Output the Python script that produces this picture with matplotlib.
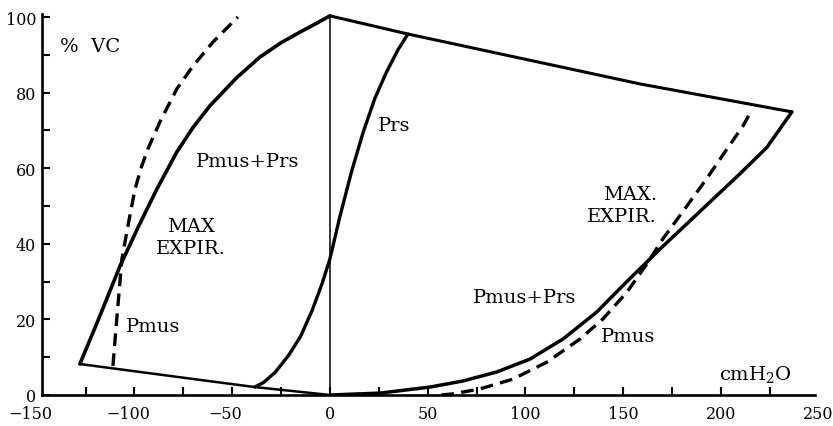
import matplotlib
matplotlib.use("Agg")
import matplotlib.pyplot as plt
from matplotlib.ticker import MultipleLocator

plt.rcParams['font.family'] = ['DejaVu Serif']
plt.rcParams['mathtext.fontset'] = 'dejavuserif'
plt.rcParams['mathtext.default'] = 'regular'

# Pressure (cmH2O) vs lung volume (% VC)
# Maximal-effort (Pmus+Prs) curve on the negative-pressure side
insp_total_x = [-127.9, -118, -107.4, -98, -88.5, -78.3, -70, -61.4, -48, -35.8, -25, -15.3, -7, 0]
insp_total_y = [8.2, 20.5, 34.1, 44.5, 54.5, 64.3, 70.8, 76.5, 83.8, 89.4, 93.2, 96.0, 98.3, 100.3]

# Muscle pressure (Pmus) on the negative-pressure side
insp_mus_x = [-111, -109, -106.4, -103, -99.7, -96.3, -93.1, -87, -78.3, -70.1, -59.8, -47.1]
insp_mus_y = [7.7, 20.3, 36, 45.6, 54.5, 60.5, 65.1, 72.2, 81, 87, 93.4, 100]

# Relaxation pressure of the respiratory system (Prs)
prs_x = [-38.4, -34, -28, -21, -15, -9, -4, 0, 5, 11, 17, 23, 29, 35, 39.9]
prs_y = [2.1, 3.3, 6.0, 10.6, 15.5, 22.5, 29.5, 36, 47, 59, 69.5, 78.5, 85.5, 91.5, 95.5]

# Low-volume boundary
low_x = [-127.9, -98.7, -68, -38.4, 0]
low_y = [8.2, 6.2, 4.1, 2.1, 0]

# High-volume boundary
high_x = [0, 39.9, 158.6, 236.3]
high_y = [100.3, 95.5, 82.3, 74.9]

# Maximal-effort (Pmus+Prs) curve on the positive-pressure side
exp_total_x = [0, 25.6, 51.2, 68, 85.4, 102.3, 119.2, 136.6, 150.9, 168.8, 182.6, 195.9, 209.7, 223.5, 236.3]
exp_total_y = [0, 0.5, 2.1, 3.7, 6.1, 9.5, 14.8, 22, 29.5, 38.6, 45.3, 51.8, 58.5, 65.5, 74.9]

# Muscle pressure (Pmus) on the positive-pressure side
exp_mus_x = [57, 62.9, 76.7, 93.6, 111, 127.9, 139.6, 151.9, 161.1, 170.3, 182.6, 192.8, 201, 211.3, 215.9]
exp_mus_y = [0, 0.3, 1.6, 4.2, 8.7, 14.8, 20.1, 27.2, 33.9, 41.3, 50, 57.3, 63.5, 71.2, 75.5]

x_tick_values = [-150, -100, -50, 0, 50, 100, 150, 200, 250]
y_tick_values = [0, 20, 40, 60, 80, 100]

fig = plt.figure(figsize=(8.33, 4.27), dpi=100)
ax = fig.add_axes([0.0499, 0.0726, 0.9282, 0.8923])
ax.set_xlim(-147.5, 248)
ax.set_ylim(0, 100.8)

solid = dict(color='black', solid_joinstyle='round', solid_capstyle='round')
ax.plot(insp_total_x, insp_total_y, lw=2.6, **solid)
ax.plot(prs_x, prs_y, lw=2.4, **solid)
ax.plot(low_x, low_y, lw=1.8, **solid)
ax.plot(high_x, high_y, lw=2.2, **solid)
ax.plot(exp_total_x, exp_total_y, lw=2.5, **solid)
ax.plot([0, 0], [0, 100.3], lw=1.1, color='black')

ax.plot(insp_mus_x, insp_mus_y, lw=2.4, color='black', dashes=(3.8, 2.2))
ax.plot(exp_mus_x, exp_mus_y, lw=2.4, color='black', dashes=(3.8, 2.2))

# Axes frame: only left and bottom
for side in ('top', 'right'):
    ax.spines[side].set_visible(False)
for side in ('left', 'bottom'):
    ax.spines[side].set_linewidth(1.9)

tick_fs = 11.5
ax.yaxis.set_minor_locator(MultipleLocator(10))
ax.set_yticks(y_tick_values)
ax.set_yticklabels([str(v) for v in y_tick_values], fontsize=tick_fs)
ax.tick_params(axis='y', which='both', direction='in', length=6, width=1.5, pad=4)

ax.xaxis.set_major_locator(MultipleLocator(50))
ax.xaxis.set_minor_locator(MultipleLocator(25))
ax.tick_params(axis='x', which='both', direction='in', length=5.5, width=1.5,
               labelbottom=False)

# x tick labels with the digits centred on the tick and the minus sign hanging left
digit_pt = 0.636 * tick_fs
for v in x_tick_values:
    digits = str(abs(v))
    label = ('\u2212' + digits) if v < 0 else digits
    ax.annotate(label, xy=(v, 0), xycoords=('data', 'axes fraction'),
                xytext=(len(digits) * digit_pt / 2, -7.5), textcoords='offset points',
                ha='right', va='top', fontsize=tick_fs, annotation_clip=False)

fs = 14
ax.text(-138.1, 92.3, '%  VC', fontsize=fs, ha='left', va='center')
ax.text(-41.9, 61.9, 'Pmus+Prs', fontsize=fs, ha='center', va='center')
ax.text(-71.1, 41.8, 'MAX\nEXPIR.', fontsize=fs, ha='center', va='center',
        multialignment='center', linespacing=1.28)
ax.text(-90.3, 18.3, 'Pmus', fontsize=fs, ha='center', va='center')
ax.text(32.7, 71.4, 'Prs', fontsize=fs, ha='center', va='center')
ax.text(167.3, 50.3, 'MAX.\nEXPIR.', fontsize=fs, ha='right', va='center',
        multialignment='right', linespacing=1.28)
ax.text(99.5, 25.9, 'Pmus+Prs', fontsize=fs, ha='center', va='center')
ax.text(152.4, 15.6, 'Pmus', fontsize=fs, ha='center', va='center')
ax.text(217.4, 5.6, 'cmH$_2$O', fontsize=fs, ha='center', va='center')

fig.savefig('out.png', dpi=100)
